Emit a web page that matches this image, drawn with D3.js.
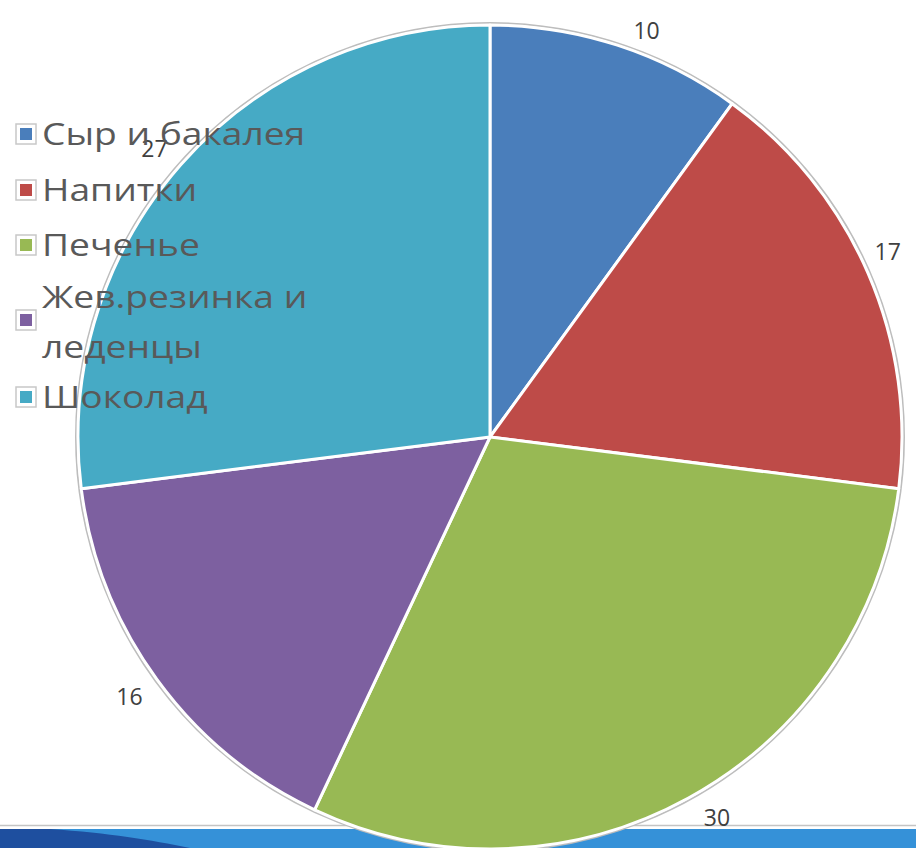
<!DOCTYPE html>
<html>
<head>
<meta charset="utf-8">
<script src="https://cdn.jsdelivr.net/npm/d3@7"></script>
<style>
  html, body { margin: 0; padding: 0; background: #fff; }
  svg { display: block; }
</style>
</head>
<body>
<svg id="chart"></svg>
<script>
// Données
const categories = ["Сыр и бакалея", "Напитки", "Печенье", "Жев.резинка и леденцы", "Шоколад"];
const values = [10, 17, 30, 16, 27];
const legendLines = [["Сыр и бакалея"], ["Напитки"], ["Печенье"], ["Жев.резинка и", "леденцы"], ["Шоколад"]];
const colors = ["#4a7ebb", "#be4b48", "#98b954", "#7d60a0", "#46aac5"];

const width = 916;
const height = 848;
const cx = 490, cy = 437;
const radius = 412;

const svg = d3.select("#chart")
    .attr("width", width)
    .attr("height", height);

// Bandeau du bas (décor de la diapo)
svg.append("line")
    .attr("x1", 0).attr("x2", width)
    .attr("y1", 825.5).attr("y2", 825.5)
    .attr("stroke", "#c4c4c4")
    .attr("stroke-width", 1.5);

svg.append("rect")
    .attr("x", 0).attr("y", 829)
    .attr("width", width).attr("height", 19)
    .attr("fill", "#3591d8");

svg.append("path")
    .attr("d", "M0,829 L50,829 C110,833 150,840 190,848 L0,848 Z")
    .attr("fill", "#1e4f9f");

// Camembert
const pie = d3.pie().sort(null).value(d => d);
const arcs = pie(values);
const arc = d3.arc().innerRadius(0).outerRadius(radius);
const labelArc = d3.arc().innerRadius(radius + 30).outerRadius(radius + 30);
// petits décalages façon Excel (best fit)
const labelNudge = [[20, 14], [-8, -10], [14, -6], [-3, 0], [-4, 4]];

const g = svg.append("g").attr("transform", `translate(${cx},${cy})`);

g.append("circle")
    .attr("r", radius + 2)
    .attr("fill", "none")
    .attr("stroke", "#bdbdbd")
    .attr("stroke-width", 2);

g.selectAll("path.slice")
    .data(arcs)
    .enter()
    .append("path")
    .attr("class", "slice")
    .attr("d", arc)
    .attr("fill", (d, i) => colors[i])
    .attr("stroke", "#fff")
    .attr("stroke-width", 3)
    .attr("stroke-linejoin", "round");

g.selectAll("text.value")
    .data(arcs)
    .enter()
    .append("text")
    .attr("class", "value")
    .attr("transform", (d, i) => {
        const c = labelArc.centroid(d);
        return `translate(${c[0] + labelNudge[i][0]},${c[1] + labelNudge[i][1]})`;
    })
    .attr("text-anchor", "middle")
    .attr("dy", "0.35em")
    .attr("font-family", "'Open Sans', sans-serif")
    .attr("font-size", 23)
    .attr("fill", "#404040")
    .text(d => d.data);

// Légende (texte un peu étiré comme sur la diapo)
const legendY = [134, 190, 245, 320, 397];
const legend = svg.append("g");

legendLines.forEach((lines, i) => {
    const item = legend.append("g").attr("transform", `translate(26,${legendY[i]})`);
    item.append("rect")
        .attr("x", -10).attr("y", -10)
        .attr("width", 20).attr("height", 20)
        .attr("fill", "#fff")
        .attr("stroke", "#c8c8c8")
        .attr("stroke-width", 1.5);
    item.append("rect")
        .attr("x", -6).attr("y", -6)
        .attr("width", 12).attr("height", 12)
        .attr("fill", colors[i]);
    const t = item.append("text")
        .attr("transform", "translate(16,0) scale(1.2,1)")
        .attr("font-family", "'Open Sans', sans-serif")
        .attr("font-size", 31)
        .attr("fill", "#595959");
    if (lines.length === 1) {
        t.append("tspan").attr("x", 0).attr("dy", "0.35em").text(lines[0]);
    } else {
        t.append("tspan").attr("x", 0).attr("y", -12).text(lines[0]);
        t.append("tspan").attr("x", 0).attr("y", 38).text(lines[1]);
    }
});
</script>
</body>
</html>
